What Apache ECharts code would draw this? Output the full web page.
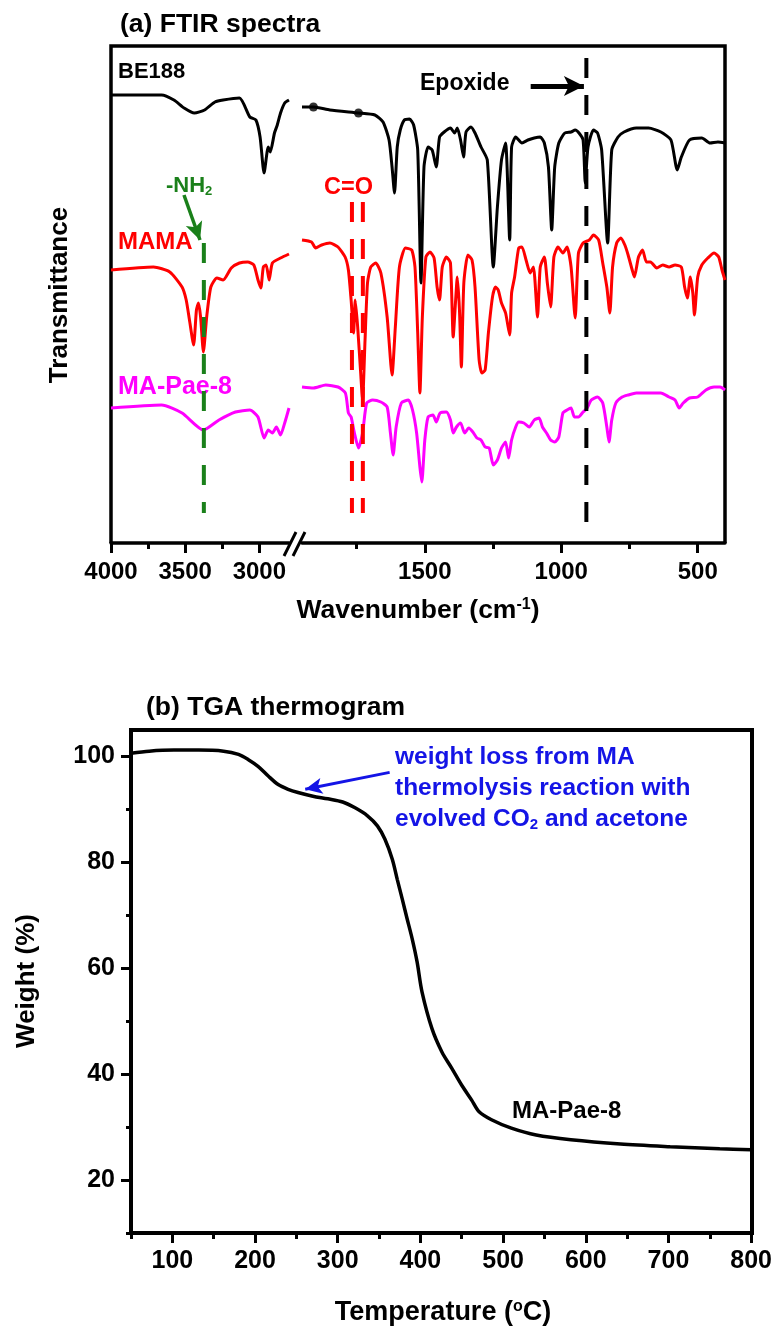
<!DOCTYPE html>
<html>
<head>
<meta charset="utf-8">
<script src="https://cdn.jsdelivr.net/npm/echarts@6/dist/echarts.min.js"></script>
<style>
  html, body { margin: 0; padding: 0; background: #fff; }
  #chart { width: 775px; height: 1329px; }
</style>
</head>
<body>
<div id="chart"></div>
<script>
// ---- (a) FTIR : wavenumber (cm-1) / transmittance (a.u.) ----
var be188LeftWn = [4000, 3659, 3576, 3507, 3438, 3369, 3299, 3244, 3134, 3064, 3023, 2995, 2968, 2940, 2926, 2898, 2879, 2857, 2829, 2800];
var be188LeftT  = [448, 448, 443, 435, 430, 433, 441, 443, 445, 426, 423, 406, 370, 396, 391, 410, 418, 430, 440, 443];
var be188RightWn = [1950, 1908, 1848, 1743, 1683, 1653, 1631, 1620, 1611, 1601, 1590, 1575, 1556, 1541, 1526, 1514, 1503, 1488, 1473, 1458,
  1446, 1429, 1406, 1391, 1381, 1369, 1358, 1349, 1331, 1316, 1294, 1271, 1249, 1234, 1219, 1204, 1189, 1182, 1167, 1144,
  1122, 1099, 1077, 1062, 1047, 1035, 1024, 1009, 987, 964, 949, 935, 920, 912, 902, 882, 867, 852, 830, 815,
  792, 770, 725, 680, 635, 598, 575, 560, 530, 485, 455, 426, 400];
var be188RightT = [436, 436, 433, 430, 428, 421, 403, 376, 350, 396, 413, 423, 424, 418, 393, 260, 376, 396, 393, 376,
  406, 411, 415, 410, 415, 403, 386, 411, 416, 410, 396, 383, 276, 336, 383, 400, 303, 396, 406, 400,
  403, 405, 406, 400, 376, 313, 376, 400, 410, 411, 413, 410, 403, 360, 396, 413, 410, 393, 300, 393,
  406, 411, 415, 415, 411, 403, 373, 386, 403, 405, 400, 401, 400];
var be188Dots = [[1908, 436], [1743, 430]];

var mamaLeftWn = [4000, 3714, 3604, 3521, 3493, 3471, 3443, 3424, 3410, 3396, 3377, 3355, 3327, 3286, 3244, 3189, 3134, 3078, 3037, 3009, 2990, 2973, 2954, 2934, 2912, 2857, 2800];
var mamaLeftT  = [273, 276, 271, 256, 243, 223, 198, 233, 240, 226, 191, 226, 256, 265, 263, 275, 280, 281, 278, 263, 255, 276, 278, 263, 280, 285, 289];
var mamaRightWn = [1950, 1915, 1900, 1878, 1848, 1818, 1792, 1780, 1770, 1761, 1755, 1746, 1735, 1728, 1719, 1710, 1698, 1680, 1661, 1638,
  1620, 1608, 1593, 1571, 1548, 1536, 1526, 1518, 1509, 1496, 1481, 1466, 1455, 1446, 1436, 1421, 1406, 1396, 1387, 1381,
  1373, 1366, 1357, 1342, 1327, 1316, 1301, 1291, 1279, 1267, 1252, 1241, 1231, 1219, 1204, 1189, 1182, 1171, 1156, 1144,
  1129, 1114, 1102, 1087, 1077, 1062, 1051, 1039, 1027, 1012, 994, 979, 964, 949, 937, 920, 897, 882, 863, 848,
  833, 822, 812, 797, 782, 767, 755, 740, 732, 717, 702, 688, 673, 650, 628, 605, 583, 560, 548, 538,
  527, 518, 512, 500, 485, 463, 440, 423, 411, 400];
var mamaRightT = [303, 301, 295, 298, 300, 296, 286, 273, 243, 210, 243, 216, 170, 143, 203, 260, 276, 280, 270, 226,
  168, 216, 276, 295, 293, 276, 210, 150, 226, 286, 291, 285, 256, 243, 276, 286, 280, 206, 243, 266,
  233, 176, 260, 288, 283, 256, 183, 170, 173, 210, 246, 256, 253, 240, 230, 208, 250, 266, 295, 296,
  283, 270, 276, 226, 276, 286, 260, 236, 286, 296, 290, 296, 276, 225, 290, 300, 303, 308, 303, 280,
  256, 230, 276, 300, 305, 298, 288, 273, 266, 286, 293, 281, 281, 275, 278, 276, 278, 276, 256, 245,
  266, 250, 228, 266, 278, 285, 290, 286, 273, 263];

var paeLeftWn = [4000, 3659, 3521, 3377, 3272, 3161, 3064, 3009, 2968, 2940, 2912, 2885, 2857, 2829, 2800];
var paeLeftT  = [135, 138, 130, 113, 123, 131, 133, 126, 105, 113, 110, 116, 108, 120, 135];
var paeRightWn = [1950, 1908, 1863, 1818, 1791, 1780, 1770, 1758, 1743, 1728, 1713, 1691, 1661, 1638, 1626, 1616, 1605, 1586, 1560, 1545,
  1530, 1518, 1511, 1500, 1488, 1470, 1458, 1444, 1421, 1406, 1396, 1384, 1369, 1354, 1339, 1324, 1309, 1294, 1279, 1264,
  1249, 1234, 1219, 1204, 1193, 1182, 1167, 1156, 1137, 1117, 1099, 1081, 1069, 1054, 1039, 1024, 1009, 994, 979, 964,
  952, 937, 920, 905, 890, 867, 848, 833, 825, 815, 800, 777, 755, 725, 695, 665, 635, 605, 583, 568,
  553, 530, 500, 470, 440, 418, 400];
var paeRightT = [156, 155, 158, 156, 150, 130, 126, 110, 95, 110, 140, 143, 141, 136, 110, 88, 116, 140, 143, 133,
  110, 76, 61, 103, 126, 128, 121, 130, 131, 123, 110, 116, 120, 110, 115, 111, 105, 103, 96, 95,
  78, 83, 95, 101, 85, 103, 116, 121, 120, 116, 123, 125, 116, 110, 103, 101, 106, 130, 133, 135,
  126, 126, 131, 135, 143, 146, 140, 116, 101, 123, 140, 146, 148, 150, 150, 150, 150, 146, 143, 135,
  140, 145, 146, 153, 156, 156, 153];

// marker lines: [wavenumber, top, bottom]
var nh2Mark = [3374, 300, 30];
var coMarks = [[1767, 341, 30], [1727, 341, 30]];
var epoxideMark = [908, 485, 10];
// arrows: [[x0, y0], [x1, y1]]
var nh2Arrow = [[3508, 348], [3400, 303]];
var epoxideArrow = [[1112, 457], [917, 457]];

var ftirLeftTicks = [3000, 3500, 4000];
var ftirLeftMinor = [3250, 3750];
var ftirRightTicks = [500, 1000, 1500];
var ftirRightMinor = [750, 1250, 1750];

// ---- (b) TGA ----
var tgaTemp = [50, 72, 102, 132, 162, 180, 192, 204, 216, 228, 240, 252, 270, 288, 306, 321, 336, 348, 357, 366,
  372, 378, 384, 390, 396, 402, 414, 426, 438, 450, 462, 471, 486, 510, 540, 582, 642, 702, 762, 800];
var tgaWeight = [100.6, 101.0, 101.2, 101.2, 101.0, 100.4, 99.4, 98.1, 96.3, 94.7, 93.8, 93.2, 92.5, 92.0, 91.4, 90.3, 88.8, 86.9, 84.4, 80.6,
  76.8, 73.1, 69.3, 65.6, 61.2, 55.5, 48.6, 44.2, 41.1, 37.9, 35.1, 32.9, 31.4, 29.8, 28.5, 27.6, 26.8, 26.3, 25.9, 25.7];
var tgaArrow = [[362.8, 97.0], [260.7, 93.8]];

var tgaXTicks = [100, 200, 300, 400, 500, 600, 700, 800];
var tgaXMinor = [50, 150, 250, 350, 450, 550, 650, 750];
var tgaYTicks = [20, 40, 60, 80, 100];
var tgaYMinor = [10, 30, 50, 70, 90];

var FONT = 'Liberation Sans, Arial, Helvetica, sans-serif';
var RED = '#ff0000', MAGENTA = '#ff00ff', GREEN = '#1a801a', BLUE = '#1414e6';

function pairs(xs, ys) { return xs.map(function (x, i) { return [x, ys[i]]; }); }
function plain(v) { return String(v); }

function majorX(grid, min, max, inverse, ticks, fs, margin) {
  return {
    type: 'value', gridIndex: grid, position: 'bottom', min: min, max: max, inverse: inverse,
    axisLine: { show: true, onZero: false, lineStyle: { color: '#000', width: 3.5 } },
    axisTick: { show: true, length: 10, customValues: ticks, lineStyle: { color: '#000', width: 3 } },
    axisLabel: { customValues: ticks, formatter: plain, color: '#000', fontFamily: FONT, fontWeight: 'bold', fontSize: fs, margin: margin },
    splitLine: { show: false }
  };
}
function minorX(grid, min, max, inverse, ticks) {
  return {
    type: 'value', gridIndex: grid, position: 'bottom', min: min, max: max, inverse: inverse,
    axisLine: { show: false, onZero: false },
    axisTick: { show: true, length: 6, customValues: ticks, lineStyle: { color: '#000', width: 3 } },
    axisLabel: { show: false }, splitLine: { show: false }
  };
}

function spectrum(xi, yi, wn, t, color) {
  return {
    type: 'line', xAxisIndex: xi, yAxisIndex: yi, data: pairs(wn, t),
    symbol: 'none', smooth: 0.2, lineStyle: { color: color, width: 3 }, silent: true
  };
}
function dashed(xi, yi, m, color) {
  return {
    type: 'line', xAxisIndex: xi, yAxisIndex: yi, data: [[m[0], m[1]], [m[0], m[2]]],
    symbol: 'none', lineStyle: { color: color, width: 4, type: [20, 17] }, silent: true, z: 5
  };
}
function arrow(a, color, width, size) {
  return {
    silent: true, animation: false, symbol: ['none', 'arrow'], symbolSize: size,
    label: { show: false }, lineStyle: { color: color, width: width, type: 'solid' },
    data: [[{ coord: a[0] }, { coord: a[1] }]]
  };
}

function richStyle(size, color) {
  var base = { fontFamily: FONT, fontWeight: 'bold', fill: color };
  return {
    n: Object.assign({ fontSize: size, lineHeight: size + 2 }, base),
    sup: Object.assign({ fontSize: Math.round(size * 0.6), lineHeight: Math.round(size * 0.6), verticalAlign: 'top' }, base),
    sub: Object.assign({ fontSize: Math.round(size * 0.6), lineHeight: Math.round(size * 0.6), verticalAlign: 'bottom' }, base)
  };
}
function txt(x, y, text, size, color, extra) {
  var el = {
    type: 'text', x: x, y: y, silent: true,
    style: { text: text, fill: color || '#000', fontFamily: FONT, fontWeight: 'bold', fontSize: size, align: 'left', verticalAlign: 'middle' }
  };
  if (extra) {
    if (extra.rich) el.style.rich = richStyle(size, color || '#000');
    if (extra.align) el.style.align = extra.align;
    if (extra.rotation) el.rotation = extra.rotation;
  }
  return el;
}

var mamaLeft = spectrum(0, 0, mamaLeftWn, mamaLeftT, RED);
mamaLeft.markLine = arrow(nh2Arrow, GREEN, 3.5, [13, 18]);
var be188Right = spectrum(2, 1, be188RightWn, be188RightT, '#000');
be188Right.markLine = arrow(epoxideArrow, '#000', 5, [15, 20]);

var option = {
  animation: false,
  backgroundColor: '#fff',
  grid: [
    { left: 111, top: 46, width: 178, height: 497 },
    { left: 302, top: 46, width: 423, height: 497 },
    { left: 131, top: 730, width: 621, height: 503 }
  ],
  xAxis: [
    majorX(0, 2800, 4000, true, ftirLeftTicks, 24, 17),
    minorX(0, 2800, 4000, true, ftirLeftMinor),
    majorX(1, 400, 1950, true, ftirRightTicks, 24, 17),
    minorX(1, 400, 1950, true, ftirRightMinor),
    majorX(2, 50, 800, false, tgaXTicks, 25, 16),
    minorX(2, 50, 800, false, tgaXMinor)
  ],
  yAxis: [
    { type: 'value', gridIndex: 0, min: 0, max: 497, show: false },
    { type: 'value', gridIndex: 1, min: 0, max: 497, show: false },
    {
      type: 'value', gridIndex: 2, position: 'left', min: 10, max: 105,
      axisLine: { show: true, lineStyle: { color: '#000', width: 4 } },
      axisTick: { show: true, length: 10, customValues: tgaYTicks, lineStyle: { color: '#000', width: 3 } },
      axisLabel: { customValues: tgaYTicks, formatter: plain, color: '#000', fontFamily: FONT, fontWeight: 'bold', fontSize: 25, margin: 16 },
      splitLine: { show: false }
    },
    {
      type: 'value', gridIndex: 2, position: 'left', min: 10, max: 105,
      axisLine: { show: false },
      axisTick: { show: true, length: 5, customValues: tgaYMinor, lineStyle: { color: '#000', width: 3 } },
      axisLabel: { show: false }, splitLine: { show: false }
    }
  ],
  series: [
    spectrum(0, 0, be188LeftWn, be188LeftT, '#000'),
    mamaLeft,
    spectrum(0, 0, paeLeftWn, paeLeftT, MAGENTA),
    be188Right,
    spectrum(2, 1, mamaRightWn, mamaRightT, RED),
    spectrum(2, 1, paeRightWn, paeRightT, MAGENTA),
    {
      type: 'scatter', xAxisIndex: 2, yAxisIndex: 1, data: be188Dots,
      symbolSize: 9, itemStyle: { color: '#000' }, silent: true
    },
    dashed(0, 0, nh2Mark, GREEN),
    dashed(2, 1, coMarks[0], RED),
    dashed(2, 1, coMarks[1], RED),
    dashed(2, 1, epoxideMark, '#000'),
    {
      type: 'line', xAxisIndex: 4, yAxisIndex: 2, data: pairs(tgaTemp, tgaWeight),
      symbol: 'none', smooth: 0.3, lineStyle: { color: '#000', width: 3.5 }, silent: true,
      markLine: arrow(tgaArrow, BLUE, 3, [12, 17])
    }
  ],
  graphic: [
    // frame of (a): bottom edge is the broken axis
    { type: 'polyline', silent: true, shape: { points: [[111, 543], [111, 46], [725, 46], [725, 543]] },
      style: { stroke: '#000', lineWidth: 3.5, fill: null } },
    { type: 'line', silent: true, shape: { x1: 284, y1: 556, x2: 296, y2: 532 }, style: { stroke: '#000', lineWidth: 3 } },
    { type: 'line', silent: true, shape: { x1: 293, y1: 556, x2: 305, y2: 532 }, style: { stroke: '#000', lineWidth: 3 } },
    // frame of (b)
    { type: 'rect', silent: true, shape: { x: 131, y: 730, width: 621, height: 503 },
      style: { stroke: '#000', lineWidth: 4, fill: null } },

    txt(120, 25, '(a) FTIR spectra', 26.5),
    txt(118, 72, 'BE188', 22),
    txt(420, 84, 'Epoxide', 23),
    txt(166, 186, '{n|-NH}{sub|2}', 22, GREEN, { rich: true }),
    txt(324, 188, 'C=O', 23.5, RED),
    txt(118, 242, 'MAMA', 24, RED),
    txt(118, 387, 'MA-Pae-8', 25, MAGENTA),
    txt(60, 295, 'Transmittance', 26, '#000', { align: 'center', rotation: Math.PI / 2 }),
    txt(418, 611, '{n|Wavenumber (cm}{sup|-1}{n|)}', 26.5, '#000', { rich: true, align: 'center' }),

    txt(146, 708, '(b) TGA thermogram', 26.5),
    txt(395, 757, 'weight loss from MA', 24.5, BLUE),
    txt(395, 788, 'thermolysis reaction with', 24.5, BLUE),
    txt(395, 819, '{n|evolved CO}{sub|2}{n| and acetone}', 24.5, BLUE, { rich: true }),
    txt(512, 1111, 'MA-Pae-8', 24),
    txt(27, 981, 'Weight (%)', 26, '#000', { align: 'center', rotation: Math.PI / 2 }),
    txt(443, 1313, '{n|Temperature (}{sup|o}{n|C)}', 27, '#000', { rich: true, align: 'center' })
  ]
};

var chart = echarts.init(document.getElementById('chart'), null, { renderer: 'canvas' });
chart.setOption(option);
</script>
</body>
</html>
